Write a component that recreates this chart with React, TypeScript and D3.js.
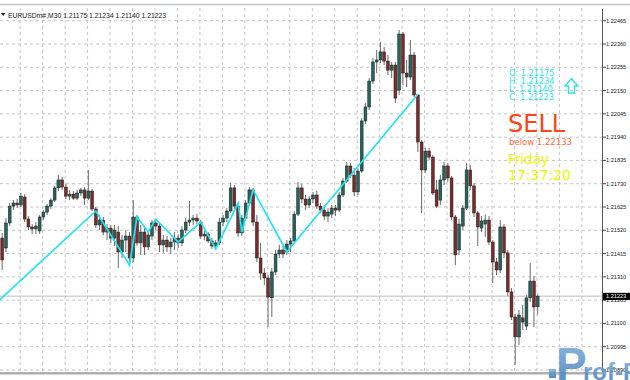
import React from "react";
import * as d3 from "d3";

const W = 630;
const H = 380;

const symbolTitle = "EURUSDm#,M30";

const opens = [
1.21485,1.21440,1.21553,1.21629,1.21643,1.21634,1.21670,1.21571,1.21535,1.21526,
1.21517,1.21580,1.21602,1.21629,1.21656,1.21711,1.21747,1.21715,1.21674,1.21683,
1.21665,1.21688,1.21702,1.21665,1.21697,1.21616,1.21544,1.21566,1.21512,1.21530,
1.21485,1.21512,1.21422,1.21476,1.21494,1.21395,1.21580,1.21463,1.21512,1.21445,
1.21494,1.21553,1.21539,1.21454,1.21476,1.21445,1.21467,1.21485,1.21463,1.21521,
1.21557,1.21566,1.21575,1.21557,1.21494,1.21503,1.21472,1.21449,1.21463,1.21557,
1.21575,1.21607,1.21711,1.21629,1.21508,1.21575,1.21643,1.21702,1.21557,1.21395,
1.21327,1.21305,1.21215,1.21332,1.21413,1.21431,1.21422,1.21458,1.21472,1.21593,
1.21711,1.21661,1.21634,1.21661,1.21679,1.21629,1.21611,1.21584,1.21593,1.21620,
1.21611,1.21679,1.21742,1.21810,1.21769,1.21693,1.21787,1.22013,1.22076,1.22193,
1.22279,1.22288,1.22324,1.22283,1.22242,1.22265,1.22152,1.22405,1.22229,1.22211,
1.22310,1.22130,1.21918,1.21792,1.21877,1.21850,1.21702,1.21656,1.21747,1.21810,
1.21756,1.21580,1.21431,1.21539,1.21620,1.21792,1.21720,1.21598,1.21530,1.21548,
1.21566,1.21467,1.21377,1.21341,1.21535,1.21418,1.21242,1.21129,1.21039,1.21125,
1.21088,1.21215,1.21291,1.21175
];

const highs = [
1.21508,1.21575,1.21643,1.21656,1.21661,1.21688,1.21683,1.21584,1.21548,1.21557,
1.21589,1.21611,1.21638,1.21665,1.21720,1.21769,1.21760,1.21729,1.21702,1.21697,
1.21702,1.21711,1.21715,1.21792,1.21706,1.21625,1.21589,1.21580,1.21548,1.21544,
1.21544,1.21539,1.21499,1.21521,1.21512,1.21656,1.21589,1.21544,1.21530,1.21512,
1.21566,1.21571,1.21557,1.21499,1.21494,1.21485,1.21512,1.21503,1.21539,1.21575,
1.21652,1.21589,1.21593,1.21566,1.21517,1.21512,1.21485,1.21476,1.21575,1.21589,
1.21620,1.21733,1.21724,1.21643,1.21589,1.21656,1.21715,1.21711,1.21589,1.21463,
1.21350,1.21318,1.21350,1.21431,1.21454,1.21449,1.21476,1.21485,1.21607,1.21738,
1.21729,1.21679,1.21674,1.21693,1.21697,1.21643,1.21634,1.21620,1.21634,1.21634,
1.21693,1.21756,1.21828,1.21823,1.21801,1.21801,1.22026,1.22094,1.22206,1.22297,
1.22333,1.22369,1.22346,1.22310,1.22279,1.22279,1.22423,1.22414,1.22288,1.22378,
1.22324,1.22134,1.21927,1.21891,1.21891,1.21859,1.21747,1.21769,1.21828,1.21823,
1.21765,1.21589,1.21571,1.21634,1.21823,1.21814,1.21733,1.21607,1.21584,1.21589,
1.21584,1.21476,1.21395,1.21566,1.21548,1.21431,1.21260,1.21143,1.21161,1.21183,
1.21228,1.21372,1.21314,1.21234
];

const lows = [
1.21341,1.21422,1.21539,1.21611,1.21620,1.21625,1.21557,1.21521,1.21503,1.21503,
1.21503,1.21566,1.21589,1.21616,1.21647,1.21697,1.21702,1.21661,1.21656,1.21656,
1.21656,1.21674,1.21634,1.21656,1.21607,1.21530,1.21521,1.21499,1.21476,1.21463,
1.21449,1.21350,1.21395,1.21422,1.21363,1.21377,1.21449,1.21409,1.21409,1.21431,
1.21476,1.21521,1.21422,1.21418,1.21422,1.21413,1.21431,1.21440,1.21449,1.21508,
1.21539,1.21544,1.21548,1.21481,1.21476,1.21463,1.21436,1.21431,1.21454,1.21539,
1.21557,1.21598,1.21616,1.21490,1.21494,1.21566,1.21634,1.21539,1.21377,1.21296,
1.21273,1.21084,1.21129,1.21318,1.21395,1.21395,1.21409,1.21422,1.21463,1.21584,
1.21643,1.21611,1.21620,1.21643,1.21616,1.21598,1.21566,1.21557,1.21575,1.21584,
1.21602,1.21670,1.21733,1.21756,1.21674,1.21679,1.21778,1.21999,1.22062,1.22179,
1.22229,1.22274,1.22265,1.22220,1.22206,1.22094,1.22130,1.22175,1.22166,1.22197,
1.22121,1.21873,1.21598,1.21778,1.21837,1.21679,1.21620,1.21634,1.21724,1.21738,
1.21566,1.21363,1.21409,1.21521,1.21611,1.21702,1.21580,1.21449,1.21512,1.21490,
1.21454,1.21282,1.21318,1.21327,1.21395,1.21224,1.21115,1.20913,1.21003,1.21070,
1.21070,1.21197,1.21084,1.21140
];

const closes = [
1.21386,1.21553,1.21629,1.21643,1.21634,1.21674,1.21571,1.21535,1.21526,1.21539,
1.21580,1.21602,1.21629,1.21656,1.21711,1.21747,1.21715,1.21674,1.21683,1.21665,
1.21688,1.21702,1.21665,1.21697,1.21616,1.21544,1.21566,1.21512,1.21530,1.21485,
1.21521,1.21422,1.21476,1.21494,1.21395,1.21580,1.21463,1.21512,1.21445,1.21499,
1.21553,1.21539,1.21454,1.21476,1.21445,1.21467,1.21485,1.21463,1.21521,1.21557,
1.21566,1.21575,1.21562,1.21494,1.21503,1.21472,1.21449,1.21463,1.21557,1.21575,
1.21607,1.21711,1.21629,1.21508,1.21575,1.21643,1.21702,1.21557,1.21395,1.21327,
1.21305,1.21219,1.21332,1.21413,1.21431,1.21413,1.21458,1.21472,1.21593,1.21711,
1.21661,1.21634,1.21661,1.21679,1.21629,1.21611,1.21584,1.21602,1.21620,1.21611,
1.21679,1.21742,1.21810,1.21769,1.21693,1.21787,1.22013,1.22076,1.22193,1.22279,
1.22288,1.22324,1.22283,1.22242,1.22265,1.22116,1.22405,1.22229,1.22211,1.22310,
1.22130,1.21918,1.21792,1.21877,1.21850,1.21688,1.21629,1.21747,1.21810,1.21756,
1.21580,1.21409,1.21548,1.21620,1.21792,1.21720,1.21598,1.21535,1.21562,1.21566,
1.21467,1.21377,1.21341,1.21535,1.21418,1.21242,1.21129,1.21039,1.21138,1.21106,
1.21215,1.21291,1.21174,1.21223
];

const priceTicks = [
1.22465,1.2236,1.22255,1.2215,1.22045,1.2194,1.21835,1.2173,
1.21625,1.2152,1.21415,1.2131,1.21205,1.211,1.20995,1.2089
];

const zzIndex = [-1, 25, 34, 36, 39, 41, 47, 53, 57, 63, 64, 67, 76, 111];
const zzPrice = [1.21201, 1.21607, 1.21363, 1.2158, 1.21512, 1.2157, 1.21467, 1.21557, 1.21436, 1.21643, 1.21512, 1.21702, 1.21422, 1.22133];

const signalText = "SELL";
const signalLevel = 1.22133;
const dayText = "Friday";
const timeText = "17:37:20";
const watermarkBig = "P";
const watermarkRest = "rof-FX";

const BULL = "#23665b";
const BEAR = "#7e2a2a";
const CYAN = "#22e4f2";

export default function App() {
  const n = opens.length;
  const last = n - 1;
  const plotRight = 602;
  const x = d3.scaleLinear().domain([0, last]).range([2.2, 537.7]);
  const y = d3.scaleLinear().domain([1.2089, 1.22465]).range([370, 20.7]);
  const fmt = d3.format(".5f");
  const step = x(1) - x(0);
  const bodyW = step * 0.76;

  const gridIdx = d3.range(4.8, 170, 6).filter((i) => x(i) < plotRight - 2);
  const zzLine = d3
    .line<number>()
    .x((d, k) => x(zzIndex[k]))
    .y((d) => y(d));

  const lastClose = closes[last];
  const info = [
    "O: " + fmt(opens[last]),
    "H: " + fmt(highs[last]),
    "L: " + fmt(lows[last]),
    "C: " + fmt(lastClose),
  ];
  const header = [symbolTitle, fmt(opens[last]), fmt(highs[last]), fmt(lows[last]), fmt(lastClose)].join(" ");

  return (
    <div style={{ position: "absolute", left: 0, top: 0, width: W, height: H, background: "#fff" }}>
      <svg width={W} height={H} style={{ display: "block" }}>
        <defs>
          <clipPath id="plot">
            <rect x={0} y={6} width={plotRight} height={366} />
          </clipPath>
          <linearGradient id="wm" x1="0" y1="0" x2="0" y2="1">
            <stop offset="0" stopColor="#7fb0da" />
            <stop offset="1" stopColor="#3a78b5" />
          </linearGradient>
        </defs>
        <rect x={0} y={0} width={W} height={H} fill="#ffffff" />
        <line x1={0} x2={W} y1={4.5} y2={4.5} stroke="#c4c4c4" strokeWidth={1.4} />

        {/* grid */}
        <g stroke="#c6c6c6" strokeWidth={1} strokeDasharray="3,3">
          {priceTicks.map((p) => (
            <line key={"h" + p} x1={0} x2={plotRight} y1={y(p)} y2={y(p)} />
          ))}
          {gridIdx.map((i) => (
            <line key={"v" + i} x1={x(i)} x2={x(i)} y1={8} y2={372} />
          ))}
        </g>

        {/* current price line */}
        <line x1={0} x2={plotRight} y1={y(lastClose)} y2={y(lastClose)} stroke="#bcbcbc" strokeWidth={1} />

        <g clipPath="url(#plot)">
          {opens.map((o, i) => {
            const c = closes[i];
            const bull = c >= o;
            const top = y(Math.max(o, c));
            const bot = y(Math.min(o, c));
            return (
              <g key={i}>
                <line x1={x(i)} x2={x(i)} y1={y(highs[i])} y2={y(lows[i])} stroke="#6a6a6a" strokeWidth={1} />
                <rect
                  x={x(i) - bodyW / 2}
                  y={top}
                  width={bodyW}
                  height={Math.max(bot - top, 0.8)}
                  fill={bull ? BULL : BEAR}
                  stroke="#1c1c1c"
                  strokeWidth={0.5}
                />
              </g>
            );
          })}
          <path d={zzLine(zzPrice) || ""} fill="none" stroke={CYAN} strokeWidth={1.7} />
        </g>

        {/* header */}
        <path d="M1,13 L5.5,13 L3.25,16 Z" fill="#222" />
        <text x={8} y={17.5} fontFamily="Liberation Sans, Arial, sans-serif" fontSize={6.8} fill="#1a1a1a">
          {header}
        </text>

        {/* info block */}
        <g fontFamily="DejaVu Sans, Verdana, sans-serif">
          {info.map((t, k) => (
            <text key={t} x={509} y={76 + k * 8} fontSize={8.2} fill={CYAN}>
              {t}
            </text>
          ))}
          <path
            d="M571.5,78.5 L578,86 L574.5,86 L574.5,93 L568.5,93 L568.5,86 L565,86 Z"
            fill="none"
            stroke={CYAN}
            strokeWidth={1.3}
          />
          <text x={508} y={131.5} fontSize={24} fill="#ff4512">
            {signalText}
          </text>
          <text x={509} y={145} fontSize={8.5} fill="#ff6a40">
            {"below " + fmt(signalLevel)}
          </text>
          <text x={508} y={164} fontSize={13.5} fill="#f4f400">
            {dayText}
          </text>
          <text x={508} y={180} fontSize={14} fill="#f4f400">
            {timeText}
          </text>
        </g>

        {/* right axis */}
        <line x1={plotRight + 0.5} x2={plotRight + 0.5} y1={9} y2={374} stroke="#555" strokeWidth={1} />
        <g fontFamily="Liberation Sans, Arial, sans-serif" fontSize={5.6} fill="#222">
          {priceTicks.map((p) => (
            <g key={"t" + p}>
              <line x1={plotRight + 1} x2={plotRight + 4} y1={y(p)} y2={y(p)} stroke="#444" />
              <text x={606} y={y(p) + 2}>
                {fmt(p)}
              </text>
            </g>
          ))}
        </g>
        <rect x={603} y={y(lastClose) - 3.3} width={27} height={7.2} fill="#000" />
        <text x={606} y={y(lastClose) + 2.2} fontFamily="Liberation Sans, Arial, sans-serif" fontSize={5.6} fill="#fff">
          {fmt(lastClose)}
        </text>

        {/* bottom border */}
        <rect x={0} y={372} width={plotRight + 1} height={2.5} fill="#b0b0b0" />

        {/* watermark */}
        <g fill="url(#wm)" fillOpacity={0.88} fontFamily="Liberation Sans, Arial, sans-serif" fontWeight="bold">
          <rect x={549} y={369} width={7} height={9} />
          <text x={556} y={380} fontSize={46}>{watermarkBig}</text>
          <text x={583} y={380} fontSize={24}>{watermarkRest}</text>
        </g>
      </svg>
    </div>
  );
}
